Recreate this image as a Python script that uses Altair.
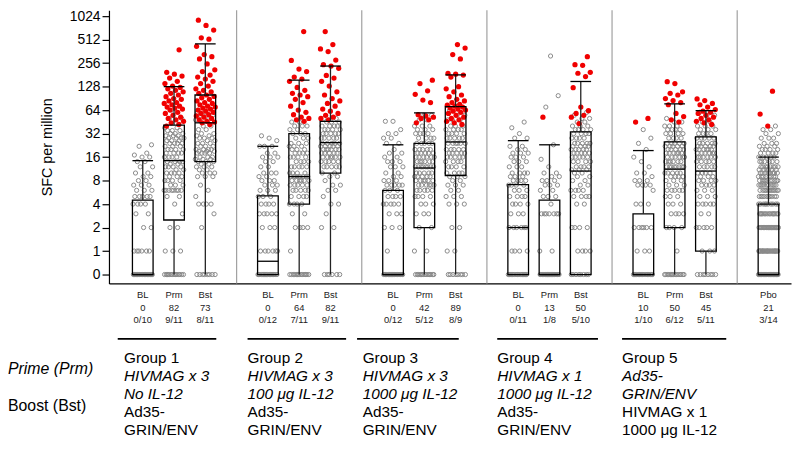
import altair as alt
import pandas as pd

FONT = "Liberation Sans"

# ---------------- data ----------------
box_names = ["BL", "Prm", "Bst", "BL", "Prm", "Bst", "BL", "Prm", "Bst",
             "BL", "Prm", "Bst", "BL", "Prm", "Bst", "Pbo"]
box_slot = [0, 1, 2, 4, 5, 6, 8, 9, 10, 12, 13, 14, 16, 17, 18, 20]
resp_pct = ["0", "82", "73", "0", "64", "82", "0", "42", "89",
            "0", "13", "50", "10", "50", "45", "21"]
resp_frac = ["0/10", "9/11", "8/11", "0/12", "7/11", "9/11", "0/12", "5/12", "8/9",
             "0/11", "1/8", "5/10", "1/10", "6/12", "5/11", "3/14"]

# box statistics (SFC per million)
box_q1 = [0, 2.5, 14, 0, 4, 10, 0, 2, 9.3, 0, 0, 0, 0, 2, 1, 0]
box_med = [0, 14.4, 44, 0.74, 9, 24.5, 0, 11.6, 25, 2, 0, 10.6, 0, 11.2, 10.6, 0]
box_q3 = [4.5, 41, 100, 5.1, 32, 46, 6, 24, 71, 7.1, 4.5, 33.6, 3, 25, 29, 4]
box_hi = [14.4, 128, 452, 22, 155, 235, 23, 59, 181, 26, 23, 149, 19.4, 77, 63, 16]
box_lo = [0] * 16

# individual responses: gray = non-responder, red = positive response
g1_bl_gray = ([0]*22 + [1]*6 + [2]*2 + [3]*2 + [4]*4 + [5]*5 + [6]*3 + [7]*3 + [8]*2 + [9]*2
              + [10]*2 + [12]*2 + [14]*2 + [16]*2 + [17, 18, 22, 23])
g1_bl_red = []
g1_prm_gray = ([0]*15 + [1]*3 + [2]*2 + [3, 4] + [5]*2 + [6]*8 + [7]*3 + [8]*4 + [9]*3 + [10]*4
               + [11]*2 + [12]*4 + [13]*2 + [14]*4 + [16]*4 + [18]*4 + [20]*4 + [22]*3 + [24]*4
               + [26]*3 + [28]*4 + [30]*3 + [32]*3 + [35]*3 + [38]*2 + [50]*2 + [60])
g1_prm_red = [40, 42, 44, 46, 48, 50, 52, 55, 58, 60, 64, 66, 68, 70, 72, 75, 78, 80, 84, 88,
              90, 95, 100, 105, 110, 115, 120, 125, 130, 140, 150, 165, 175, 185, 195, 380]
g1_bst_gray = ([0]*8 + [2, 3] + [4]*4 + [5, 6, 7] + [9]*3 + [10]*3 + [11]*2 + [12]*3 + [13]*2
               + [14]*3 + [15]*3 + [16]*3 + [18]*4 + [19]*3 + [20]*4 + [22]*3 + [24]*3 + [26]*2
               + [28]*3 + [30]*2 + [32]*2 + [36]*2 + [40]*2 + [48]*2 + [55]*2 + [60]*2)
g1_bst_red = [42, 44, 45, 46, 48, 50, 52, 54, 56, 58, 60, 62, 64, 66, 68, 70, 72, 75, 78, 80,
              84, 88, 92, 96, 100, 105, 110, 115, 120, 130, 140, 150, 160, 170, 180, 200, 210,
              250, 290, 310, 330, 420, 520, 540, 680, 780, 910]

g2_bl_gray = ([0]*18 + [1]*6 + [2]*3 + [3]*5 + [4]*4 + [5]*3 + [6]*3 + [7]*3 + [8]*3 + [9]*2
              + [10]*3 + [12]*2 + [14]*2 + [16]*3 + [18]*2 + [22]*3 + [26, 28, 30])
g2_bl_red = []
g2_prm_gray = ([0]*15 + [1] + [2]*4 + [3]*2 + [4]*4 + [5]*4 + [6]*5 + [7]*5 + [8]*6 + [9]*8
               + [10]*4 + [12]*5 + [14]*4 + [16]*4 + [18]*4 + [20]*3 + [22]*3 + [24]*3 + [28]*3
               + [32]*3 + [36]*2 + [40]*3 + [45]*2)
g2_prm_red = [46, 48, 50, 52, 56, 60, 64, 72, 80, 88, 95, 100, 105, 115, 125, 150, 160, 170,
              200, 215, 277, 650]
g2_bst_gray = ([0]*6 + [2]*2 + [3] + [4]*2 + [5] + [6]*2 + [7]*2 + [8] + [9]*2 + [10]*2
               + [12]*5 + [14]*5 + [16]*6 + [18]*5 + [20]*6 + [22]*5 + [24]*5 + [28]*5 + [32]*5
               + [36]*4 + [40]*4 + [45]*3 + [50]*2)
g2_bst_red = [48, 50, 52, 55, 58, 62, 66, 72, 78, 84, 90, 100, 110, 130, 150, 165, 178, 220,
              235, 245, 280, 360, 390, 443, 650]

g3_bl_gray = ([0]*20 + [1] + [2]*3 + [3]*3 + [4]*5 + [5]*4 + [6]*3 + [7]*5 + [8]*3 + [9]*2
              + [10]*2 + [12]*3 + [14]*3 + [16]*2 + [18]*2 + [20] + [24]*2 + [28]*2 + [32]*2
              + [36] + [46]*2)
g3_bl_red = []
g3_prm_gray = ([0]*15 + [1]*2 + [2]*2 + [3]*3 + [4]*3 + [5]*4 + [6]*5 + [7]*6 + [8]*6 + [9]*5
               + [10]*5 + [12]*8 + [14]*6 + [16]*6 + [18]*5 + [20]*5 + [24]*5 + [28]*4 + [32]*4
               + [36]*3 + [40]*3 + [48]*2 + [55]*2)
g3_prm_red = [44, 48, 50, 52, 54, 56, 80, 86, 102, 113, 140, 155]
g3_bst_gray = ([0]*8 + [1]*2 + [2]*2 + [4]*3 + [5]*3 + [6]*2 + [7]*3 + [8]*2 + [9]*3 + [10]*4
               + [12]*4 + [14]*4 + [16]*5 + [18]*5 + [20]*5 + [24]*6 + [28]*5 + [32]*4 + [36]*4
               + [40]*3 + [48]*3 + [55]*2 + [64])
g3_bst_red = [42, 44, 46, 48, 50, 52, 55, 58, 60, 62, 64, 66, 68, 70, 72, 74, 76, 80, 84, 88,
              95, 100, 110, 120, 128, 170, 180, 185, 190, 290, 330, 400, 443]

g4_bl_gray = ([0]*18 + [1]*4 + [2]*6 + [3]*3 + [4]*4 + [5]*4 + [6]*3 + [7]*4 + [8]*4 + [9]*3
              + [10]*4 + [12]*3 + [14]*3 + [16]*3 + [18]*3 + [20]*2 + [22]*2 + [28]*2
              + [32, 38, 45])
g4_bl_red = []
g4_prm_gray = ([0]*22 + [1]*2 + [3]*7 + [4] + [5]*3 + [6]*2 + [7]*3 + [8]*3 + [9]*2 + [10]*2
               + [12, 15, 23, 70, 98, 316])
g4_prm_red = [52]
g4_bst_gray = ([0]*8 + [1]*4 + [2]*4 + [4]*2 + [5]*4 + [6]*4 + [7]*2 + [8]*2 + [9]*2 + [10]*2
               + [11]*3 + [12]*4 + [14]*4 + [16]*5 + [18]*5 + [20]*5 + [22]*4 + [24]*5 + [28]*4
               + [32]*4 + [36]*4 + [40]*3 + [45]*2 + [50]*2 + [55, 60])
g4_bst_red = [43, 52, 55, 58, 63, 70, 124, 172, 190, 195, 240, 245, 310]

g5_bl_gray = ([0]*18 + [1]*3 + [2]*6 + [4]*3 + [6] + [7]*4 + [8]*3 + [9] + [10]*2
              + [12, 14, 16, 20, 24, 28, 36])
g5_bl_red = [45, 50]
g5_prm_gray = ([0]*15 + [1] + [2]*4 + [3]*4 + [4]*3 + [5]*3 + [6]*5 + [7]*3 + [8]*3 + [9]*4
               + [10]*5 + [12]*8 + [14]*6 + [16]*6 + [18]*6 + [20]*5 + [22]*5 + [24]*5 + [28]*4
               + [32]*4 + [36]*4 + [40]*3 + [45]*2 + [50])
g5_prm_red = [45, 48, 53, 58, 75, 80, 85, 90, 100, 105, 110, 140, 148]
g5_bst_gray = ([0]*8 + [1]*3 + [2]*5 + [3]*2 + [4]*5 + [5]*3 + [6]*3 + [7]*4 + [8]*4 + [9]*3
               + [10]*4 + [12]*5 + [14]*5 + [16]*6 + [18]*6 + [20]*6 + [22]*5 + [24]*5 + [28]*5
               + [32]*4 + [36]*3 + [40]*3 + [45]*2 + [55]*2 + [60])
g5_bst_red = [42, 44, 46, 48, 50, 52, 55, 58, 60, 62, 65, 70, 75, 78, 85, 89]

pbo_gray = ([0]*30 + [1]*25 + [2]*25 + [3]*15 + [4]*10 + [5]*10 + [6]*12 + [7]*10 + [8]*10
            + [9]*8 + [10]*8 + [11]*6 + [12]*8 + [14]*6 + [16]*5 + [18]*4 + [20]*4 + [22]*3
            + [24]*3 + [28]*3 + [32]*2 + [36]*2 + [40])
pbo_red = [40, 57, 112]

gray_lists = [g1_bl_gray, g1_prm_gray, g1_bst_gray, g2_bl_gray, g2_prm_gray, g2_bst_gray,
              g3_bl_gray, g3_prm_gray, g3_bst_gray, g4_bl_gray, g4_prm_gray, g4_bst_gray,
              g5_bl_gray, g5_prm_gray, g5_bst_gray, pbo_gray]
red_lists = [g1_bl_red, g1_prm_red, g1_bst_red, g2_bl_red, g2_prm_red, g2_bst_red,
             g3_bl_red, g3_prm_red, g3_bst_red, g4_bl_red, g4_prm_red, g4_bst_red,
             g5_bl_red, g5_prm_red, g5_bst_red, pbo_red]

separators = [3, 7, 11, 15, 19]

group_rows = [
    ["Group 1", "Group 2", "Group 3", "Group 4", "Group 5"],
    ["HIVMAG x 3", "HIVMAG x 3", "HIVMAG x 3", "HIVMAG x 1", "Ad35-"],
    ["No IL-12", "100 \u03bcg IL-12", "1000 \u03bcg IL-12", "\u00a01000 \u03bcg IL-12", "GRIN/ENV"],
    ["Ad35-", "Ad35-", "Ad35-", "Ad35-", "HIVMAG x 1"],
    ["GRIN/ENV", "GRIN/ENV", "GRIN/ENV", "GRIN/ENV", "\u00a01000 \u03bcg IL-12"],
]
row_italic = [False, True, True, False, False]

# ---------------- layout constants ----------------
group_text_x = [-0.6, 3.35, 7.03, 11.33, 15.32]
group_line_x1 = [-0.8, 3.35, 6.85, 11.33, 15.32]
group_line_x2 = [2.35, 6.5, 10.1, 14.55, 18.65]
row_y = [351, 369.5, 388, 406, 424.5]

# ---------------- build ----------------
rows = []
for s, g, r in zip(box_slot, gray_lists, red_lists):
    for v in g:
        rows.append({"slot": s, "v": v, "kind": "gray"})
    for v in r:
        rows.append({"slot": s, "v": v, "kind": "red"})
pts = pd.DataFrame(rows)

boxes = pd.DataFrame({"slot": box_slot, "q1": box_q1, "med": box_med, "q3": box_q3,
                      "hi": box_hi, "lo": box_lo, "name": box_names,
                      "pct": resp_pct, "frac": resp_frac})


def log2expr(f):
    return f"datum.{f} > 0 ? log(datum.{f}) / LN2 : -1"


xs = alt.Scale(domain=[-1.08, 20.72], nice=False, zero=False)
ys = alt.Scale(domain=[-1.379, 10.253], nice=False, zero=False)

y_axis = alt.Axis(values=list(range(-1, 11)),
                  labelExpr="datum.value < 0 ? '0' : format(pow(2, datum.value), 'd')",
                  title="SFC per million", grid=False, domainColor="black",
                  domainWidth=1.2, tickColor="black", tickSize=7, tickWidth=1.2,
                  labelFontSize=14, labelColor="black", labelPadding=2,
                  titleFontSize=14.5, titleFontWeight="normal", titleColor="black",
                  titlePadding=15, labelFont=FONT, titleFont=FONT)
x_axis = alt.Axis(labels=False, ticks=False, grid=False, title="", domainColor="black",
                  domainWidth=1.2)

BX = dict(scale=xs, axis=x_axis)
BY = dict(scale=ys, axis=y_axis)

pbase = alt.Chart(pts).transform_window(rn="row_number()").transform_calculate(
    L=log2expr("v"),
    xj="datum.slot + ((datum.rn * 0.6180339887) % 1 - 0.5) * 0.64",
)
gray_pts = pbase.transform_filter("datum.kind == 'gray'").mark_point(
    shape="circle", filled=False, size=18, strokeWidth=1.0, color="#8a8a8a", opacity=1
).encode(x=alt.X("xj:Q", **BX), y=alt.Y("L:Q", **BY))
red_pts = pbase.transform_filter("datum.kind == 'red'").mark_circle(
    size=28, color="#f00000", opacity=1
).encode(x=alt.X("xj:Q", **BX), y=alt.Y("L:Q", **BY))

bbase = alt.Chart(boxes).transform_calculate(
    Lq1=log2expr("q1"), Lmed=log2expr("med"), Lq3=log2expr("q3"),
    Lhi=log2expr("hi"), Llo=log2expr("lo"),
    xl="datum.slot - 0.33", xr="datum.slot + 0.33",
)
rect = bbase.mark_rect(fill="transparent", stroke="black", strokeWidth=1.3).encode(
    x=alt.X("xl:Q", **BX), x2="xr:Q", y=alt.Y("Lq1:Q", **BY), y2="Lq3:Q")
median = bbase.mark_rule(color="black", strokeWidth=1.3).encode(
    x=alt.X("xl:Q", **BX), x2="xr:Q", y=alt.Y("Lmed:Q", **BY))
wh_up = bbase.mark_rule(color="#222222", strokeWidth=1.3).encode(
    x=alt.X("slot:Q", **BX), y=alt.Y("Lq3:Q", **BY), y2="Lhi:Q")
wh_lo = bbase.mark_rule(color="#222222", strokeWidth=1.3).encode(
    x=alt.X("slot:Q", **BX), y=alt.Y("Llo:Q", **BY), y2="Lq1:Q")
cap = bbase.mark_rule(color="black", strokeWidth=1.3).encode(
    x=alt.X("xl:Q", **BX), x2="xr:Q", y=alt.Y("Lhi:Q", **BY))

seps = alt.Chart(pd.DataFrame({"x": separators})).mark_rule(
    color="#a0a0a0", strokeWidth=1.2).encode(x=alt.X("x:Q", **BX))

TXT = dict(font=FONT, fontSize=9.5, color="#222222", align="center", baseline="middle")
lab_name = bbase.mark_text(**TXT).encode(x=alt.X("slot:Q", **BX), y=alt.value(288), text="name:N")
lab_pct = bbase.mark_text(**TXT).encode(x=alt.X("slot:Q", **BX), y=alt.value(301), text="pct:N")
lab_frac = bbase.mark_text(**TXT).encode(x=alt.X("slot:Q", **BX), y=alt.value(313), text="frac:N")

glines = alt.Chart(pd.DataFrame({"x1": group_line_x1, "x2": group_line_x2})).mark_rule(
    color="black", strokeWidth=2).encode(x=alt.X("x1:Q", **BX), x2="x2:Q", y=alt.value(332))

text_layers = []
for k, texts in enumerate(group_rows):
    df = pd.DataFrame({"x": group_text_x, "t": texts})
    text_layers.append(
        alt.Chart(df).mark_text(font=FONT, fontSize=15.5, color="black", align="left",
                                baseline="middle",
                                fontStyle="italic" if row_italic[k] else "normal")
        .encode(x=alt.X("x:Q", **BX), y=alt.value(row_y[k]), text="t:N"))

side = alt.Chart(pd.DataFrame({"t": ["Prime (Prm)"]})).mark_text(
    font=FONT, fontSize=16, color="black", align="left", baseline="middle", fontStyle="italic"
).encode(x=alt.value(-102), y=alt.value(362), text="t:N")
side2 = alt.Chart(pd.DataFrame({"t": ["Boost (Bst)"]})).mark_text(
    font=FONT, fontSize=16, color="black", align="left", baseline="middle"
).encode(x=alt.value(-102), y=alt.value(400), text="t:N")

chart = alt.layer(
    gray_pts, red_pts, seps, rect, median, wh_up, wh_lo, cap,
    lab_name, lab_pct, lab_frac, glines, *text_layers, side, side2
).properties(
    width=689, height=276,
    autosize=alt.AutoSizeParams(type="none"),
    padding={"left": 102, "top": 0, "right": 1, "bottom": 165},
    background="white",
).configure_view(stroke="transparent")

chart.save("out.html", embed_options={"renderer": "svg", "actions": False})
